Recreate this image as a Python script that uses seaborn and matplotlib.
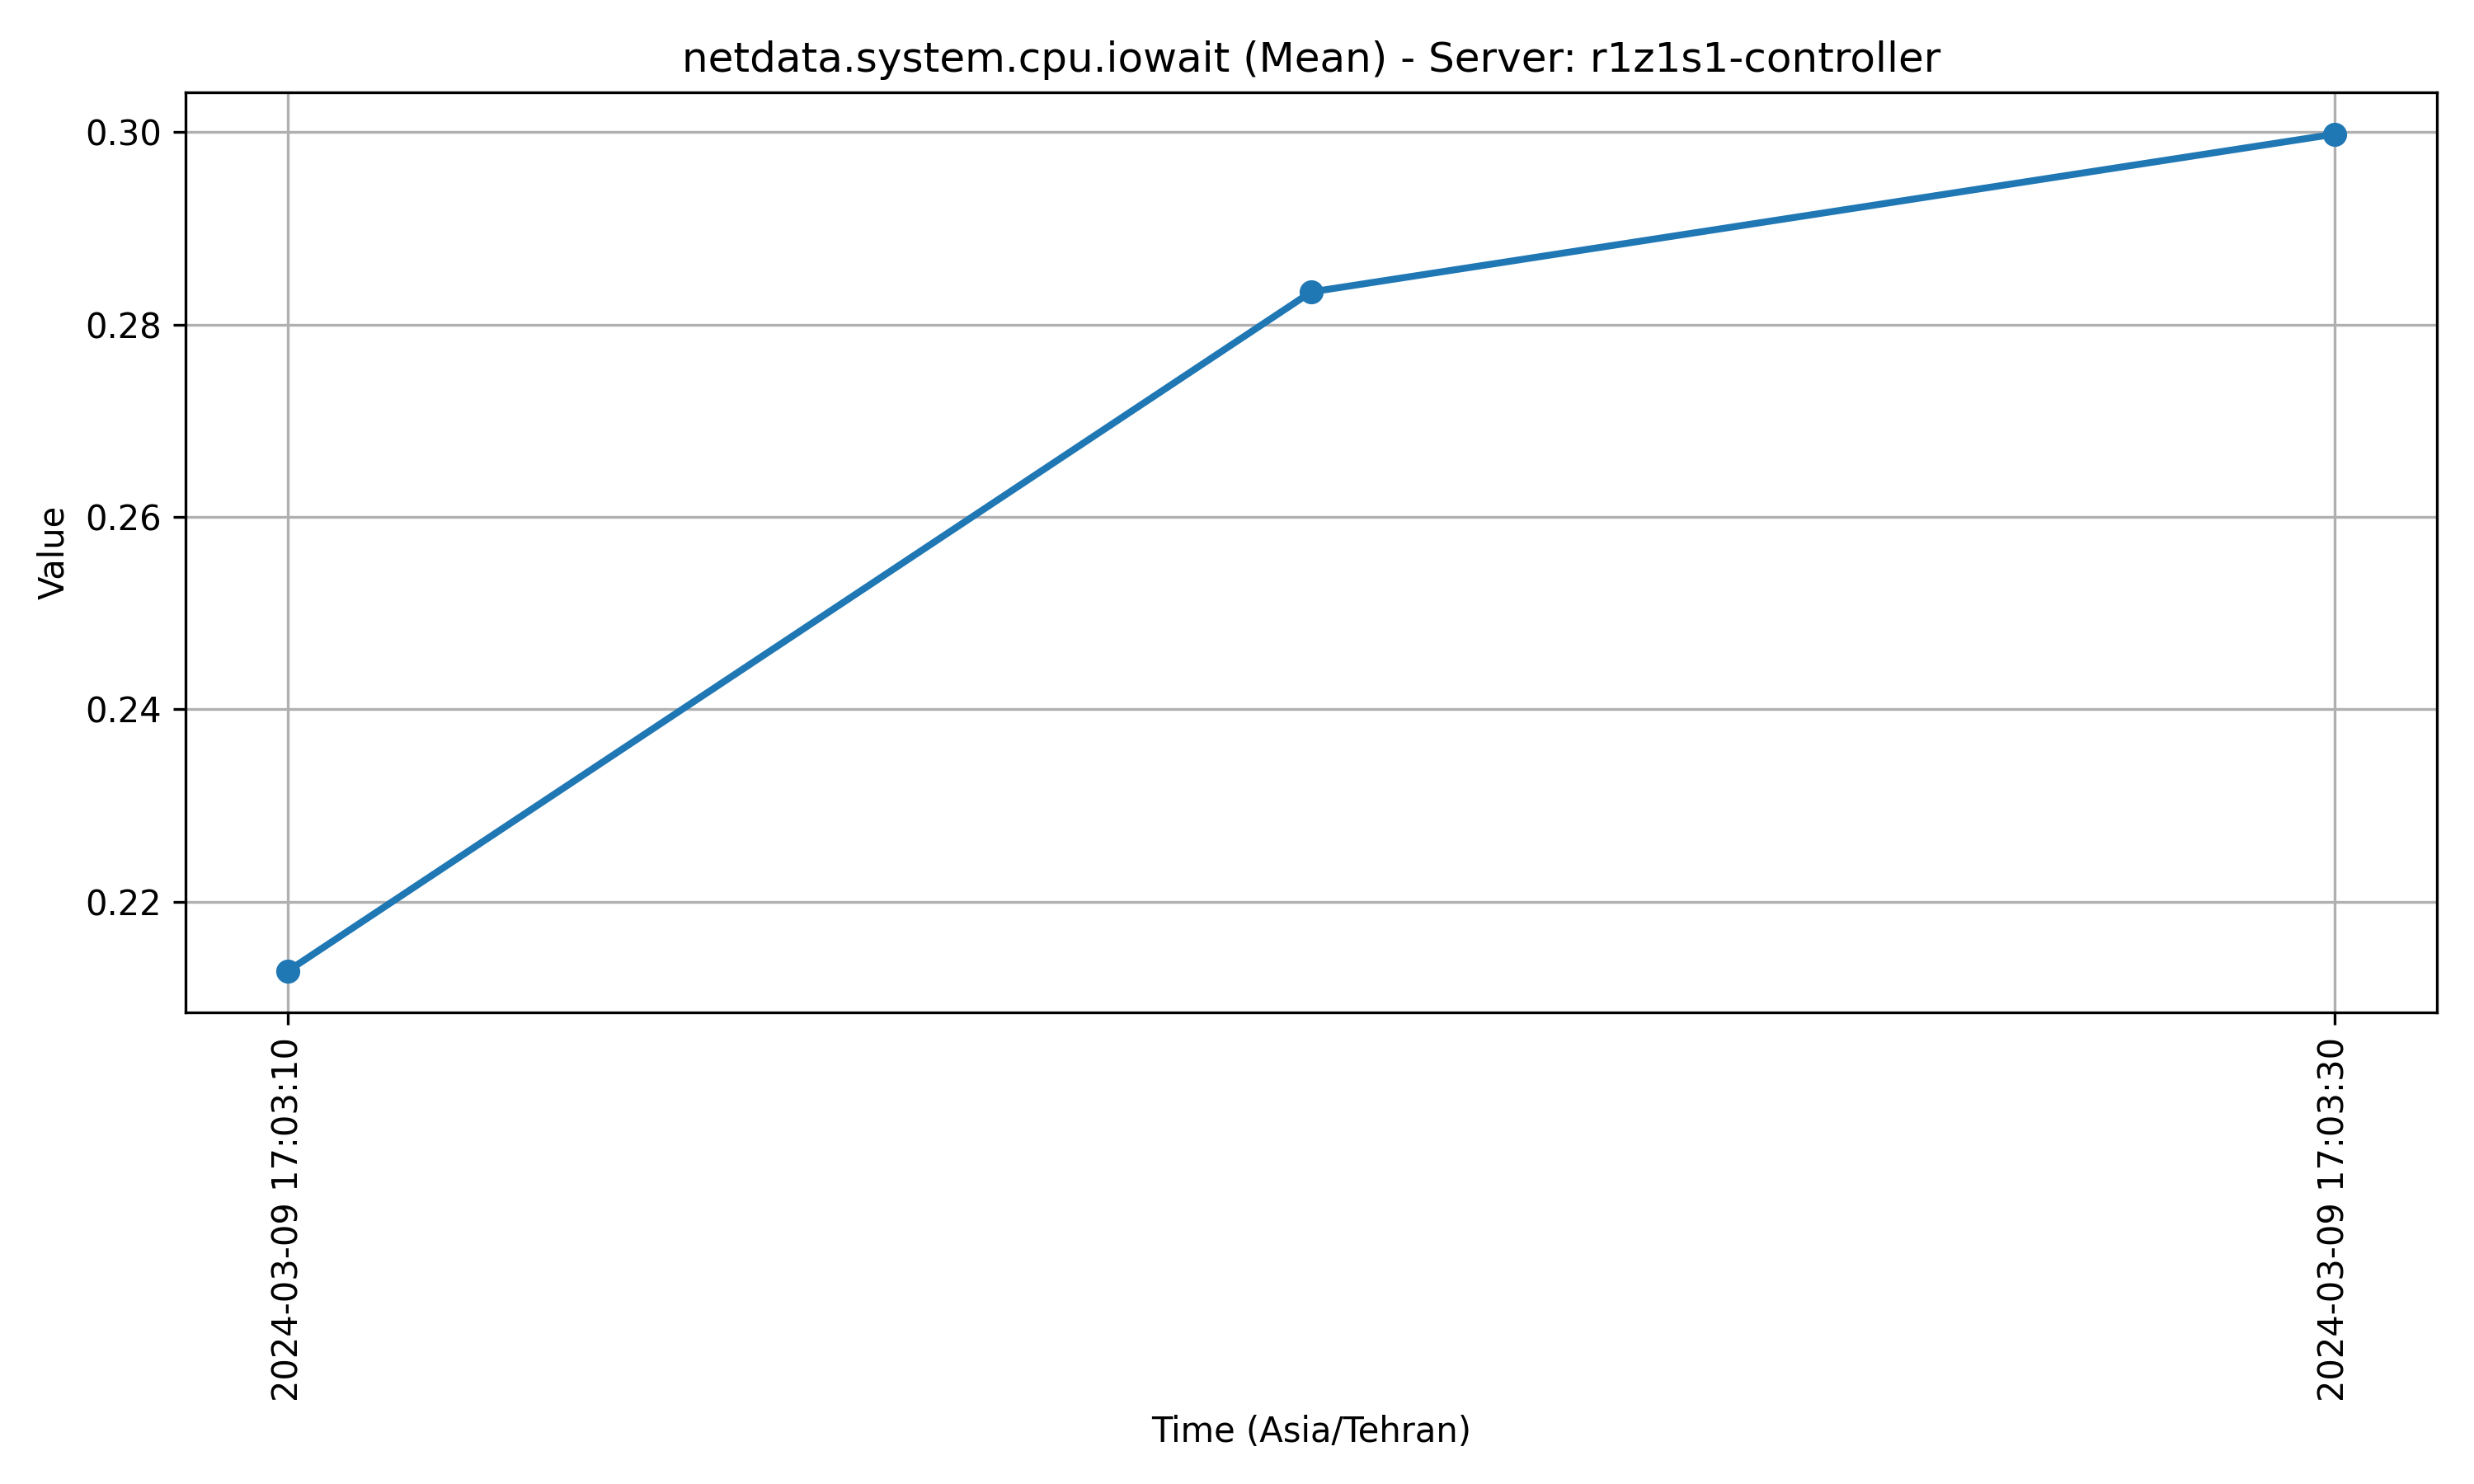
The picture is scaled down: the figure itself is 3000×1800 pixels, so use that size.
import pandas as pd
import seaborn as sns
import matplotlib.pyplot as plt
import matplotlib.dates as mdates

# Dados
times = ['2024-03-09 17:03:10', '2024-03-09 17:03:20', '2024-03-09 17:03:30']
values = [0.2128, 0.2834, 0.2998]
tick_times = ['2024-03-09 17:03:10', '2024-03-09 17:03:30']

df = pd.DataFrame({'time': pd.to_datetime(times), 'value': values})

plt.figure(figsize=(10, 6))
ax = sns.lineplot(data=df, x='time', y='value', marker='o', linewidth=2,
                  markersize=7, markeredgewidth=0, color='#1f77b4')
ax.set_xticks(pd.to_datetime(tick_times))
ax.xaxis.set_major_formatter(mdates.DateFormatter('%Y-%m-%d %H:%M:%S'))
plt.xticks(rotation=90)
plt.title('netdata.system.cpu.iowait (Mean) - Server: r1z1s1-controller')
plt.xlabel('Time (Asia/Tehran)')
plt.ylabel('Value')
plt.grid(True)
plt.tight_layout()
plt.savefig('out.png', dpi=300)
